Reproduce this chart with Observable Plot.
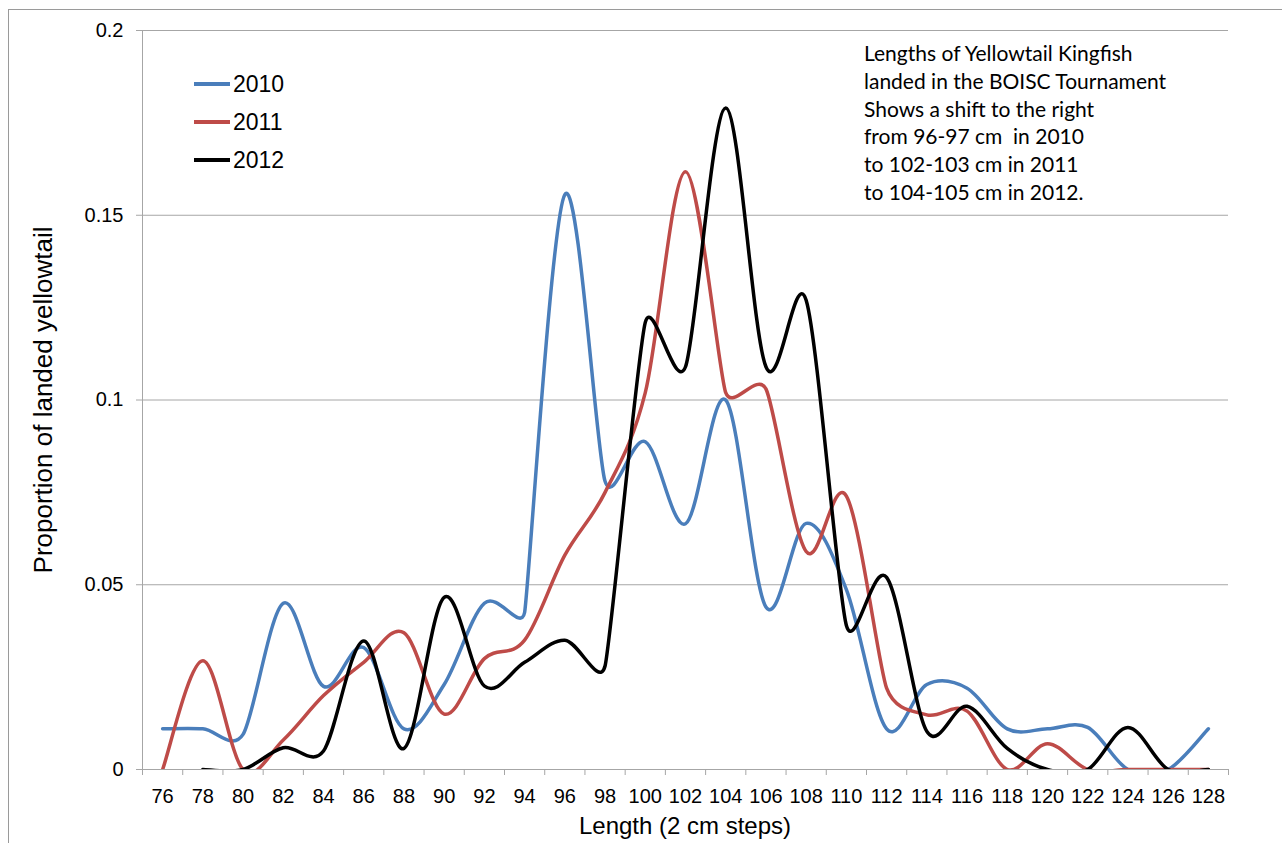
<!DOCTYPE html>
<html>
<head>
<meta charset="utf-8">
<script src="https://cdn.jsdelivr.net/npm/d3@7"></script>
<script src="https://cdn.jsdelivr.net/npm/@observablehq/plot@0.6"></script>
<style>
  html, body { margin: 0; padding: 0; background: #fff; overflow: hidden; }
  #wrap { position: relative; width: 1282px; height: 843px; }
  #frame { position: absolute; left: 8px; top: 9px; width: 1400px; height: 1000px; border-left: 1.5px solid #9a9a9a; border-top: 1.5px solid #9a9a9a; }
  #chart { position: absolute; left: 0; top: 0; }
  #legend { position: absolute; left: 194px; top: 65px; font-family: 'Liberation Sans', Arial, sans-serif; font-size: 23px; }
  .lg { display: flex; align-items: center; height: 38px; }
  .lg span.sw { display: inline-block; width: 36px; height: 3.5px; margin-right: 3px; }
  #note { position: absolute; left: 864px; top: 39px; font-family: Lato, 'Open Sans', sans-serif; font-size: 21px; line-height: 27.8px; color: #000; white-space: pre; }
  .axt { position: absolute; font-family: 'Liberation Sans', Arial, sans-serif; color: #000; white-space: nowrap; }
  #xt { left: 685px; top: 826px; font-size: 24px; transform: translate(-50%, -50%); }
  #yt { left: 43px; top: 400px; font-size: 26px; transform: translate(-50%, -50%) rotate(-90deg); }
</style>
</head>
<body>
<div id="wrap">
  <div id="frame"></div>
  <div id="chart"></div>
  <div id="legend"></div>
  <div id="note"></div>
  <div id="xt" class="axt"></div>
  <div id="yt" class="axt"></div>
</div>
<script>
const lengths = [76,78,80,82,84,86,88,90,92,94,96,98,100,102,104,106,108,110,112,114,116,118,120,122,124,126,128];
const years = ["2010","2011","2012"];
const colors = ["#4a7ebb","#be4b48","#000000"];
const p2010 = [0.011,0.011,0.0095,0.045,0.0225,0.033,0.011,0.023,0.045,0.0425,0.1556,0.078,0.0887,0.0665,0.1,0.044,0.0666,0.0487,0.011,0.023,0.022,0.011,0.011,0.0114,0,0,0.011];
const p2011 = [0,0.0294,0,0.008,0.02,0.029,0.037,0.015,0.03,0.035,0.058,0.075,0.102,0.1618,0.102,0.103,0.059,0.074,0.022,0.0148,0.0158,0,0.007,0,0,0,0];
const p2012 = [null,0,0,0.0059,0.005,0.0348,0.0057,0.0466,0.0226,0.029,0.035,0.028,0.121,0.109,0.179,0.109,0.127,0.039,0.052,0.0103,0.0171,0.0057,0,0,0.0114,0,0];
const yTicks = [0,0.05,0.1,0.15,0.2];
const xLabel = "Length (2 cm steps)";
const yLabel = "Proportion of landed yellowtail";
const noteLines = [
  "Lengths of Yellowtail Kingfish",
  "landed in the BOISC Tournament",
  "Shows a shift to the right",
  "from 96-97 cm  in 2010",
  "to 102-103 cm in 2011",
  "to 104-105 cm in 2012."
];

// Spreadsheet-style smoothed line: Bezier with 1/6 tangent arms, limited to half the adjacent segment
function smoothCurve(context) {
  let pts = [];
  return {
    areaStart() {}, areaEnd() {},
    lineStart() { pts = []; },
    point(x, y) { pts.push([+x, +y]); },
    lineEnd() {
      const n = pts.length;
      if (!n) return;
      context.moveTo(pts[0][0], pts[0][1]);
      if (n === 1) return;
      const dist = (a, b) => Math.hypot(b[0] - a[0], b[1] - a[1]);
      const arms = pts.map((p, i) => {
        const p0 = pts[Math.max(0, i - 1)], p2 = pts[Math.min(n - 1, i + 1)];
        const d02 = dist(p0, p2) || 1e-9;
        const d01 = dist(p0, p), d12 = dist(p, p2);
        let f = 1 / 6;
        const lim = [];
        if (i > 0) lim.push(d01);
        if (i < n - 1) lim.push(d12);
        const m = Math.min(...lim);
        if (d02 * f > m / 2) f = m / (2 * d02);
        return [(p2[0] - p0[0]) * f, (p2[1] - p0[1]) * f];
      });
      for (let i = 0; i < n - 1; i++) {
        const a = pts[i], b = pts[i + 1];
        context.bezierCurveTo(a[0] + arms[i][0], a[1] + arms[i][1], b[0] - arms[i + 1][0], b[1] - arms[i + 1][1], b[0], b[1]);
      }
    }
  };
}

const series = [p2010, p2011, p2012];
const rows = [];
years.forEach((yr, k) => lengths.forEach((L, i) => {
  if (series[k][i] !== null) rows.push({len: L, year: yr, v: series[k][i]});
}));
const xBounds = [lengths[0] - 1, lengths[lengths.length - 1] + 1];
const oddTicks = d3.range(xBounds[0], xBounds[1] + 1, 2);
const gray = "#a6a6a6";

const chart = Plot.plot({
  width: 1282, height: 843,
  marginLeft: 142, marginRight: 54, marginTop: 30, marginBottom: 74,
  style: {fontFamily: "'Liberation Sans', Arial, sans-serif", fontSize: "20px", background: "transparent", color: "#000", overflow: "visible"},
  x: {domain: xBounds},
  y: {domain: [0, 0.2]},
  color: {domain: years, range: colors},
  marks: [
    Plot.gridY(yTicks.slice(1), {stroke: gray, strokeOpacity: 1, strokeWidth: 1}),
    Plot.ruleX([xBounds[0]], {stroke: gray, strokeWidth: 1}),
    Plot.ruleY([0], {stroke: gray, strokeWidth: 1}),
    Plot.axisY(yTicks, {color: gray, tickSize: 6, tickFormat: () => "", label: null}),
    Plot.axisY(yTicks, {tickSize: 0, tickPadding: 19, tickFormat: d => String(d), label: null, fontSize: 20}),
    Plot.axisX(oddTicks, {color: gray, tickSize: 6, tickFormat: () => "", label: null}),
    Plot.axisX(lengths, {tickSize: 0, tickPadding: 19, tickFormat: d => String(d), label: null, fontSize: 20}),
    Plot.line(rows, {x: "len", y: "v", z: "year", stroke: "year", strokeWidth: 3.5, curve: smoothCurve, clip: true})
  ]
});
document.getElementById("chart").appendChild(chart);

const lg = document.getElementById("legend");
years.forEach((yr, k) => {
  const row = document.createElement("div");
  row.className = "lg";
  row.innerHTML = `<span class="sw" style="background:${colors[k]}"></span><span>${yr}</span>`;
  lg.appendChild(row);
});
document.getElementById("note").textContent = noteLines.join("\n");
document.getElementById("xt").textContent = xLabel;
document.getElementById("yt").textContent = yLabel;
</script>
</body>
</html>
